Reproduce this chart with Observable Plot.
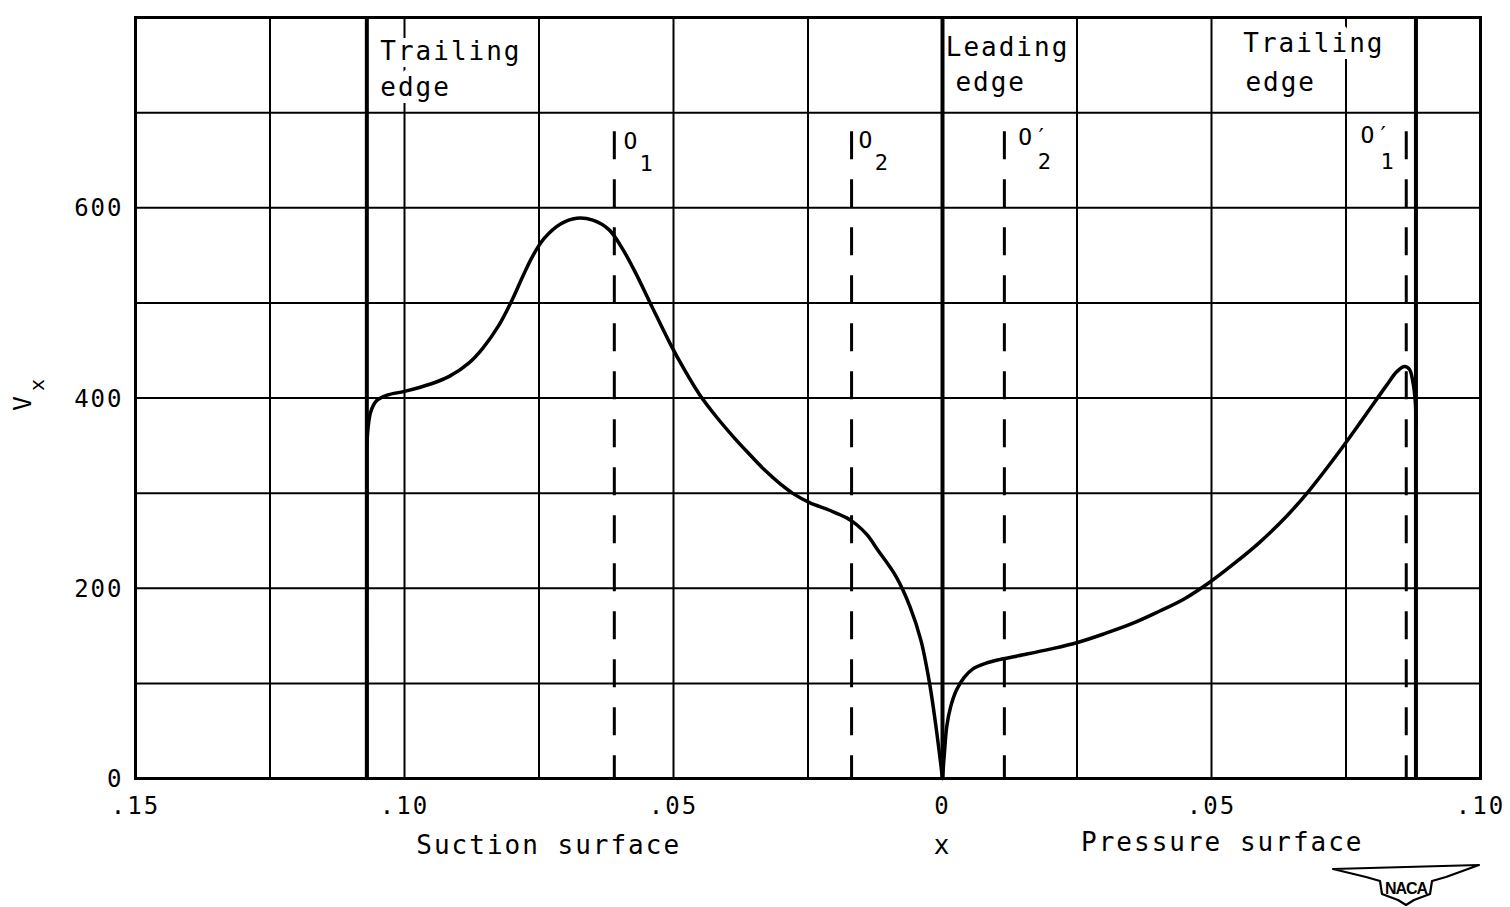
<!DOCTYPE html>
<html>
<head>
<meta charset="utf-8">
<script src="https://cdn.jsdelivr.net/npm/d3@7"></script>
<script src="https://cdn.jsdelivr.net/npm/@observablehq/plot@0.6"></script>
<style>
  html, body { margin: 0; padding: 0; background: #fff; }
  #wrap { position: relative; width: 1510px; height: 907px; }
  #wrap svg text { letter-spacing: 2px; }
  #logo { position: absolute; left: 1332px; top: 863px; }
  #wrap #logo text { letter-spacing: -1px; }
</style>
</head>
<body>
<div id="wrap"></div>
<script>
// ---- data ----
const xGrid = [-0.15, -0.125, -0.10, -0.075, -0.05, -0.025, 0, 0.025, 0.05, 0.075, 0.10];
const yGrid = [0, 100, 200, 300, 400, 500, 600, 700, 800];
const xTicks = [-0.15, -0.10, -0.05, 0, 0.05, 0.10];
const xTickLabels = [".15", ".10", ".05", "0", ".05", ".10"];
const yTicks = [0, 200, 400, 600];
const yTickLabels = ["0", "200", "400", "600"];

// blade edges (solid heavy lines) and stations (dashed)
const edgeX = [-0.107, 0, 0.088];
const stationX = [-0.061, -0.0169, 0.0115, 0.0862];
const stationTop = 680;

// suction surface (negative x), V_x
const suctionX = [-0.107, -0.107, -0.1069, -0.1063, -0.1052, -0.1032, -0.1000, -0.0950, -0.0916, -0.0880, -0.0855, -0.0825, -0.0800, -0.0780, -0.0762, -0.0740, -0.0710, -0.0680, -0.0650, -0.0620, -0.0595, -0.0570, -0.0540, -0.0507, -0.0480, -0.0452, -0.0420, -0.0390, -0.0364, -0.0330, -0.0300, -0.0279, -0.0247, -0.0210, -0.0178, -0.0160, -0.0140, -0.0120, -0.0086, -0.0060, -0.0040, -0.0024, -0.0012, 0];
const suctionV = [0, 300, 360, 385, 397, 403, 407, 415, 423, 437, 452, 476, 503, 528, 549, 568, 583, 589, 587, 577, 557, 531, 496, 458, 430, 404, 380, 360, 344, 324, 309, 300, 290, 282, 274, 267, 256, 240, 212, 180, 145, 100, 54, 0];

// pressure surface (positive x), V_x
const pressureX = [0, 0.0004, 0.0008, 0.0015, 0.0026, 0.0040, 0.0056, 0.0080, 0.0106, 0.0150, 0.0200, 0.0251, 0.0300, 0.0353, 0.0400, 0.0450, 0.0496, 0.0540, 0.0589, 0.0640, 0.0682, 0.0738, 0.0780, 0.0825, 0.0845, 0.0859, 0.0868, 0.0874, 0.0879, 0.0880];
const pressureV = [0, 30, 55, 75, 93, 106, 115, 121, 125, 130, 136, 143, 152, 163, 175, 189, 206, 225, 248, 276, 303, 344, 377, 413, 428, 433, 430, 418, 395, 370];

// annotations
const edgeLabelText = ["Trailing", "edge", "Leading", "edge", "Trailing", "edge"];
const edgeLabelX = [-0.1045, -0.1045, 0.0006, 0.0024, 0.0559, 0.0563];
const edgeLabelV = [764, 726, 768, 732, 772, 732];

const stationMain = ["O", "O", "O′", "O′"];
const stationMainX = [-0.0593, -0.0156, 0.0141, 0.0777];
const stationMainV = [669, 671, 674, 676];
const stationSub = ["1", "2", "2", "1"];
const stationSubX = [-0.0563, -0.0126, 0.0177, 0.0814];
const stationSubV = [646, 647, 648, 648];

const bottomText = ["Suction surface", "x", "Pressure surface"];
const bottomX = [-0.0732, 0, 0.0520];
const bottomDy = [67, 67, 64];

// ---- build tables ----
const suction = suctionX.map((x, i) => ({x, v: suctionV[i]}));
const pressure = pressureX.map((x, i) => ({x, v: pressureV[i]}));
const stations = stationX.map(x => ({x, top: stationTop, bottom: 0}));
const edgeLabels = edgeLabelText.map((t, i) => ({t, x: edgeLabelX[i], v: edgeLabelV[i]}));
const stMain = stationMain.map((t, i) => ({t, x: stationMainX[i], v: stationMainV[i]}));
const stSub = stationSub.map((t, i) => ({t, x: stationSubX[i], v: stationSubV[i]}));
const bottoms = bottomText.map((t, i) => ({t, x: bottomX[i], dy: bottomDy[i]}));

const font = "'DejaVu Sans Mono', 'Liberation Mono', monospace";

const chart = Plot.plot({
  width: 1510,
  height: 907,
  marginLeft: 135,
  marginRight: 30,
  marginTop: 17,
  marginBottom: 129,
  style: {fontFamily: font, background: "#fff", color: "#000"},
  x: {domain: [-0.15, 0.10], axis: null},
  y: {domain: [0, 800], axis: null},
  marks: [
    Plot.ruleX(xGrid, {stroke: "#000", strokeWidth: 2}),
    Plot.ruleY(yGrid, {stroke: "#000", strokeWidth: 2}),
    // labels that break the grid lines (white halo)
    Plot.text(edgeLabels, {x: "x", y: "v", text: "t", textAnchor: "start", lineAnchor: "middle",
      fontSize: 26, fill: "#000", stroke: "#fff", strokeWidth: 14, strokeLinejoin: "round", paintOrder: "stroke"}),
    Plot.frame({stroke: "#000", strokeWidth: 3}),
    Plot.ruleX(edgeX, {stroke: "#000", strokeWidth: 4}),
    Plot.ruleX(stations, {x: "x", y1: "top", y2: "bottom", stroke: "#000", strokeWidth: 3, strokeDasharray: "28,20"}),
    Plot.line(suction, {x: "x", y: "v", curve: "catmull-rom", stroke: "#000", strokeWidth: 3.5}),
    Plot.line(pressure, {x: "x", y: "v", curve: "catmull-rom", stroke: "#000", strokeWidth: 3.5}),
    Plot.text(stMain, {x: "x", y: "v", text: "t", textAnchor: "start", lineAnchor: "middle", fontSize: 23, fill: "#000"}),
    Plot.text(stSub, {x: "x", y: "v", text: "t", textAnchor: "start", lineAnchor: "middle", fontSize: 22, fill: "#000"}),
    Plot.axisX({ticks: xTicks, tickFormat: d => xTickLabels[xTicks.indexOf(d)], tickSize: 0, tickPadding: 18,
      fontSize: 24, label: null, anchor: "bottom"}),
    Plot.axisY({ticks: yTicks, tickFormat: d => yTickLabels[yTicks.indexOf(d)], tickSize: 0, tickPadding: 12,
      fontSize: 24, label: null, anchor: "left", dy: 1}),
    ...bottoms.map(b => Plot.text([b], {x: "x", y: () => 0, text: "t", dy: b.dy, lineAnchor: "middle", fontSize: 26, fill: "#000"})),
    Plot.text(["V"], {frameAnchor: "left", text: d => d, rotate: -90, dx: -113, dy: 13, fontSize: 25, fill: "#000"}),
    Plot.text(["x"], {frameAnchor: "left", text: d => d, rotate: -90, dx: -98, dy: -7, fontSize: 20, fill: "#000"})
  ]
});
document.getElementById("wrap").appendChild(chart);

// decorative NACA emblem
document.getElementById("wrap").insertAdjacentHTML("beforeend",
  '<svg id="logo" width="148" height="44" viewBox="0 0 148 44">' +
  '<path d="M1,6 L147,2 L114,14 L100,18 L98,31 L82,37 L74,42 L66,37 L50,31 L48,18 L34,14 Z" fill="#fff" stroke="#000" stroke-width="2.2" stroke-linejoin="round"/>' +
  '<text x="74" y="31" text-anchor="middle" font-family="Liberation Sans, sans-serif" font-weight="bold" font-size="16">NACA</text>' +
  '</svg>');
</script>
</body>
</html>
